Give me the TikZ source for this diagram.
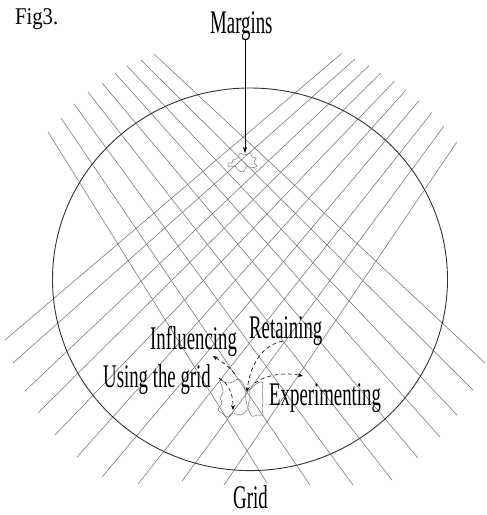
\documentclass[tikz,border=0pt]{standalone}
\usepackage{fontspec}
\setmainfont{Liberation Serif}
\usetikzlibrary{arrows.meta}
\tikzset{
  gridline/.style={black!55, line width=0.55pt},
  rim/.style={black!80, line width=0.9pt},
  lbl/.style={anchor=base west, inner sep=0pt, font=\fontsize{33}{33}\selectfont},
  piece/.style={black!55, line width=0.5pt},
  dasharrow/.style={black, line width=0.6pt, dash pattern=on 4pt off 3pt, -{Stealth[length=5pt,width=4pt]}},
  solidarrow/.style={black, line width=0.6pt, -{Stealth[length=6pt,width=4pt]}}
}
\newcommand{\sq}[1]{\scalebox{0.57}[1]{#1}}
\begin{document}
\begin{tikzpicture}[x=1pt,y=-1pt]
\useasboundingbox (0,0) rectangle (487,515);
% grid lines "\" family
\foreach \ax/\ay/\bx/\by in {48/132/267/483, 61/118/310/485, 74/104/353/485, 88/92/392/480, 102/83/418/458, 115/73/440/437, 127/66/457/415, 141/60/473/390, 154/54/485/363}
  \draw[gridline] (\ax,\ay) -- (\bx,\by);
% grid lines "/" family
\foreach \ax/\ay/\bx/\by in {341.7/53.3/5/340, 355/59/13/363, 369/65.7/25/391, 381/72.7/38/413, 394.3/81.3/55/435, 406/90/77/457, 419/100.7/102/477, 431.7/112.7/138/484, 444/126/182/481, 456.7/142.3/224/485}
  \draw[gridline] (\ax,\ay) -- (\bx,\by);
% outer ellipse
\draw[rim] (250,279.3) ellipse [x radius=197.5, y radius=191.3];
% puzzle piece at the margins
\draw[piece] plot[smooth cycle, tension=0.6] coordinates {(233,160) (238,158) (240,153) (245,155) (250,153) (252,157) (256,158) (254,163) (257,166) (251,168) (247,166) (243,172) (238,170) (235,166) (229,167) (228,163) (232,163)};
% puzzle pieces at the grid
\draw[piece] plot[smooth cycle, tension=0.6] coordinates {(220,380) (227,383) (233,382) (238,379) (243,383) (245,390) (246,400) (247,410) (240,415) (233,413) (227,417) (222,413) (218,410) (222,403) (220,398) (223,393) (222,387)};
\draw[piece] plot[smooth cycle, tension=0.6] coordinates {(250,390) (255,385) (260,382) (263,383) (262,390) (263,400) (262,410) (263,415) (257,415) (252,416) (248,407) (250,398)};
% labels
\node[anchor=base west, inner sep=0pt, font=\fontsize{24}{24}\selectfont] (fig) at (15,24) {\scalebox{0.86}[1]{Fig3.}};
\node[lbl] (margins) at (210,33) {\sq{Margins}};
\node[lbl] (influencing) at (150,349) {\sq{Influencing}};
\node[lbl] (retaining) at (249,338) {\sq{Retaining}};
\node[lbl] (using) at (103,387) {\sq{Using the grid}};
\node[lbl] (experimenting) at (269,405) {\sq{Experimenting}};
\node[lbl] (grid) at (233,508) {\sq{Grid}};
% connector end points
\coordinate (mtip) at (245,153);
\coordinate (infS) at (235,374);
\coordinate (infE) at (213,356);
\coordinate (retS) at (283,341);
\coordinate (retE) at (247,392);
\coordinate (expS) at (255,383);
\coordinate (expE) at (303,376);
\coordinate (useS) at (219,378);
\coordinate (useE) at (233,410);
% arrows
\draw[solidarrow] (margins.south -| mtip) -- (mtip);
\draw[dasharrow] (infS) .. controls (228,366) .. (infE);
\draw[dasharrow] (retS) .. controls (262,345) and (250,365) .. (retE);
\draw[dasharrow] (expS) .. controls (265,375) and (285,372) .. (expE);
\draw[dasharrow] (useS) .. controls (230,385) and (233,395) .. (useE);
\end{tikzpicture}
\end{document}
